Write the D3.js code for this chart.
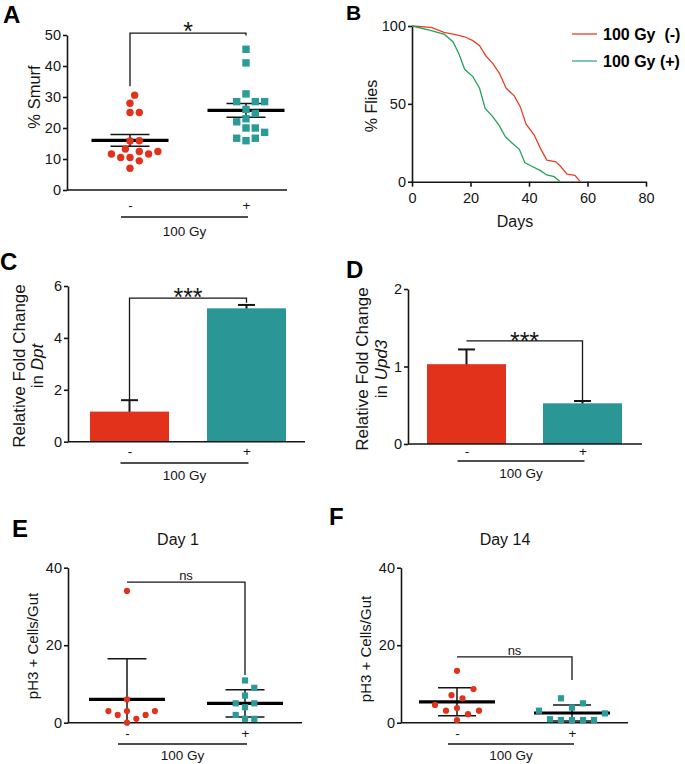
<!DOCTYPE html>
<html><head><meta charset="utf-8">
<script src="https://cdn.jsdelivr.net/npm/d3@7"></script>
<style>
body{margin:0;background:#fff;}
svg{display:block;font-family:"Liberation Sans",Arial,Helvetica,sans-serif;}
</style></head><body>
<svg id="fig" width="685" height="764"></svg>
<script>
// ---------------- DATA ----------------
const groups = ["-", "+"];
const groupLabel = "100 Gy";

// Panel A: % Smurf
const smurfNeg = [30.6, 28, 25, 25, 15.8, 15.9, 12.4, 11.6, 10.5, 10.5, 11.6, 12.4, 13.2, 9.4, 7];
const smurfPos = [45.4, 41, 31, 28.5, 28.5, 28.5, 24.7, 26, 23, 22, 20, 20, 18.6, 16.7, 16.7, 15.9];
const smurfMean = [16.0, 25.7];
const smurfSem = [1.9, 2.2];
const smurfTicks = [0, 10, 20, 30, 40, 50];
const smurfBracket = [33.5, 50.6, 49.8]; // left end, top, right end (values)

// Panel B: survival
const survDaysNeg = [0, 6.6, 10.9, 14.5, 18, 20.8, 23.1, 25.3, 27.6, 29.9, 32.2, 35, 37, 39, 41.8, 43.9, 46.1, 49.2, 50.9, 53, 55.7, 57.5];
const survPctNeg  = [100, 99.1, 95.9, 94.6, 93.1, 90.6, 87.4, 80.7, 76, 69.6, 60, 55, 48.2, 37, 30, 21.4, 13.9, 12.8, 9.6, 4.9, 4.1, 0];
const survDaysPos = [0, 6, 11.1, 14, 16, 18, 20.8, 23.1, 25, 27.6, 29.9, 31.9, 34.4, 36.7, 38.6, 41.3, 43.9, 46.1, 48.6, 50.7];
const survPctPos  = [100, 97.4, 94.6, 89.9, 82.4, 72.2, 67.5, 60, 47.1, 41.8, 35.8, 28.9, 24.6, 20.8, 12.2, 9.6, 7.1, 4.3, 3.2, 0];
const survLegend = ["100 Gy  (-)", "100 Gy (+)"];
const survXTicks = [0, 20, 40, 60, 80];
const survYTicks = [0, 50, 100];

// Panel C: Dpt
const dptMean = [1.16, 5.14];
const dptErr = [0.44, 0.13];
const dptTicks = [0, 2, 4, 6];
const dptBracket = [1.6, 5.53, 5.35];

// Panel D: Upd3
const upd3Mean = [1.03, 0.525];
const upd3Err = [0.19, 0.03];
const upd3Ticks = [0, 1, 2];
const upd3Bracket = [1.33, 1.33, 0.555];

// Panel E: Day 1
const day1Neg = [34, 6, 2, 3, 3, 3, 2, 0, 1];
const day1Pos = [10.9, 9, 7, 5, 5, 4, 2, 1, 1];
const day1Mean = [6.0, 5.0];
const day1Sd = [10.5, 3.5];
const day1Bracket = [36.3, 36.3, 12.3];

// Panel F: Day 14
const day14Neg = [13.4, 8.7, 6.3, 7.1, 4.6, 3.8, 3.1, 3.1, 2.2, 0.7];
const day14Pos = [6.3, 5.0, 3.9, 3.1, 2.4, 0.9, 0.7, 0.7, 0.7, 0.7];
const day14Mean = [5.4, 2.5];
const day14Sd = [3.6, 2.05];
const day14Bracket = [17, 17, 11];
const pH3Ticks = [0, 20, 40];

// ---------------- DRAW ----------------
const svg = d3.select("#fig");
const RED = "#e2321b", TEAL = "#2b9b98", BARTEAL = "#2b9696", INK = "#151515";
const SURV_RED = "#e4402a", SURV_GREEN = "#27a05c", LEG_TEAL = "#33a89c";

function styleAxis(g, fs) {
  g.selectAll("path,line").attr("stroke", INK).attr("stroke-width", 1.6);
  g.selectAll("text").attr("fill", INK).attr("font-size", fs).attr("font-family", "Liberation Sans, Arial, sans-serif");
}
function yAxis(scale, ticks, x, fs) {
  const g = svg.append("g").attr("transform", `translate(${x},0)`)
    .call(d3.axisLeft(scale).tickValues(ticks).tickSize(4).tickSizeOuter(0).tickPadding(2).tickFormat(d3.format("d")));
  styleAxis(g, fs || 14);
  return g;
}
function catAxis(xs, y, x0, x1, pad) {
  svg.append("line").attr("x1", x0).attr("x2", x1).attr("y1", y).attr("y2", y)
    .attr("stroke", INK).attr("stroke-width", 1.6);
  const g = svg.append("g").attr("transform", `translate(0,${y})`)
    .call(d3.axisBottom(xs).tickSize(0).tickPadding(pad));
  g.select(".domain").remove();
  styleAxis(g, 13.5);
}
function groupLine(xs, y, labelY) {
  const a = xs(groups[0]) - 9, b = xs(groups[1]) + 2;
  svg.append("line").attr("x1", a).attr("x2", b).attr("y1", y).attr("y2", y)
    .attr("stroke", INK).attr("stroke-width", 1.4);
  svg.append("text").attr("x", (a + b) / 2).attr("y", labelY).attr("text-anchor", "middle")
    .attr("font-size", 13.5).attr("fill", INK).text(groupLabel);
}
function letter(t, x, y, fs) {
  svg.append("text").attr("x", x).attr("y", y).attr("font-size", fs || 24).attr("font-weight", "bold")
    .attr("fill", "#000").text(t);
}
function yTitle(lines, cy, fs) {
  lines.forEach(ln => {
    const t = svg.append("text").attr("transform", `translate(${ln.x},${cy}) rotate(-90)`)
      .attr("text-anchor", "middle").attr("font-size", fs).attr("fill", INK);
    ln.parts.forEach(p => t.append("tspan").attr("font-style", p.it ? "italic" : null).text(p.t));
  });
}
function bracket(xs, ys, vals, label, fs, dy) {
  const xl = xs(groups[0]), xr = xs(groups[1]);
  const p = d3.path();
  p.moveTo(xl, ys(vals[0])); p.lineTo(xl, ys(vals[1])); p.lineTo(xr, ys(vals[1])); p.lineTo(xr, ys(vals[2]));
  svg.append("path").attr("d", p.toString()).attr("fill", "none").attr("stroke", INK).attr("stroke-width", 1.3);
  svg.append("text").attr("x", (xl + xr) / 2).attr("y", ys(vals[1]) + dy).attr("text-anchor", "middle")
    .attr("font-size", fs).attr("fill", INK).text(label);
}
// deterministic beeswarm
function swarm(values, ys, cx, d) {
  const placed = [];
  const order = values.map((v, i) => ({ v, i })).sort((a, b) => a.v - b.v);
  for (const p of order) {
    const y = ys(p.v);
    let k = 0, x;
    while (true) {
      const off = k === 0 ? 0 : (k % 2 ? 1 : -1) * Math.ceil(k / 2) * d / 2;
      x = cx + off;
      if (placed.every(q => (q.x - x) ** 2 + (q.y - y) ** 2 >= d * d * 0.97)) break;
      k++;
    }
    placed.push({ x, y, v: p.v });
  }
  return placed;
}
function dotPanel(o) {
  const { xs, ys, neg, pos, mean, err, meanHalf, capHalf, d, r } = o;
  groups.forEach((gname, i) => {
    const cx = xs(gname);
    const top = mean[i] + err[i];
    const bot = mean[i] - err[i];
    const botC = Math.max(bot, 0);
    svg.append("line").attr("x1", cx).attr("x2", cx).attr("y1", ys(top)).attr("y2", ys(botC))
      .attr("stroke", INK).attr("stroke-width", 1.5);
    svg.append("line").attr("x1", cx - capHalf).attr("x2", cx + capHalf).attr("y1", ys(top)).attr("y2", ys(top))
      .attr("stroke", INK).attr("stroke-width", 1.5);
    if (bot >= 0) svg.append("line").attr("x1", cx - capHalf).attr("x2", cx + capHalf).attr("y1", ys(bot)).attr("y2", ys(bot))
      .attr("stroke", INK).attr("stroke-width", 1.5);
    svg.append("line").attr("x1", cx - meanHalf).attr("x2", cx + meanHalf).attr("y1", ys(mean[i])).attr("y2", ys(mean[i]))
      .attr("stroke", "#000").attr("stroke-width", 3.2);
  });
  const pn = swarm(neg, ys, xs(groups[0]), d);
  svg.append("g").selectAll("circle").data(pn).join("circle")
    .attr("cx", p => p.x).attr("cy", p => p.y).attr("r", r).attr("fill", RED);
  const pp = swarm(pos, ys, xs(groups[1]), d);
  svg.append("g").selectAll("rect").data(pp).join("rect")
    .attr("x", p => p.x - r).attr("y", p => p.y - r).attr("width", 2 * r).attr("height", 2 * r).attr("fill", TEAL);
}
function barPanel(o) {
  const { xs, ys, mean, err, bw } = o;
  const cols = [RED, BARTEAL];
  groups.forEach((gname, i) => {
    const cx = xs(gname);
    const top = mean[i] + err[i];
    svg.append("line").attr("x1", cx).attr("x2", cx).attr("y1", ys(top)).attr("y2", ys(mean[i] - err[i]))
      .attr("stroke", INK).attr("stroke-width", 2);
    svg.append("line").attr("x1", cx - 8.5).attr("x2", cx + 8.5).attr("y1", ys(top)).attr("y2", ys(top))
      .attr("stroke", INK).attr("stroke-width", 2);
  });
  svg.append("g").selectAll("rect").data(mean).join("rect")
    .attr("x", (v, i) => xs(groups[i]) - bw / 2).attr("width", bw)
    .attr("y", v => ys(v)).attr("height", v => ys(0) - ys(v))
    .attr("fill", (v, i) => cols[i]);
}

// ===== Panel A =====
{
  const ys = d3.scaleLinear().domain([0, 50]).range([190, 35]);
  const xs = d3.scalePoint().domain(groups).range([130, 246]);
  letter("A", 3, 23, 24);
  yAxis(ys, smurfTicks, 67, 14.5);
  catAxis(xs, ys(0), 67, 287, 10);
  groupLine(xs, 217, 236);
  yTitle([{ x: 40, parts: [{ t: "% Smurf" }] }], 97, 16.5);
  bracket(xs, ys, smurfBracket, "*", 25, 7);
  dotPanel({ xs, ys, neg: smurfNeg, pos: smurfPos, mean: smurfMean, err: smurfSem, meanHalf: 38.5, capHalf: 19.5, d: 9.3, r: 3.7 });
}

// ===== Panel B =====
{
  const xs = d3.scaleLinear().domain([0, 80]).range([412, 646]);
  const ys = d3.scaleLinear().domain([0, 100]).range([181.7, 26]);
  letter("B", 346, 20, 21);
  yAxis(ys, survYTicks, 412, 14.5);
  const gx = svg.append("g").attr("transform", `translate(0,${ys(0)})`)
    .call(d3.axisBottom(xs).tickValues(survXTicks).tickSize(5).tickSizeOuter(0).tickPadding(6));
  styleAxis(gx, 14.5);
  svg.append("text").attr("x", 515).attr("y", 227).attr("text-anchor", "middle").attr("font-size", 16).attr("fill", INK).text("Days");
  yTitle([{ x: 377, parts: [{ t: "% Flies" }] }], 106, 16);
  const line = d3.line().x(d => xs(d[0])).y(d => ys(d[1]));
  svg.append("path").attr("d", line(survDaysNeg.map((d, i) => [d, survPctNeg[i]])))
    .attr("fill", "none").attr("stroke", SURV_RED).attr("stroke-width", 1.3);
  svg.append("path").attr("d", line(survDaysPos.map((d, i) => [d, survPctPos[i]])))
    .attr("fill", "none").attr("stroke", SURV_GREEN).attr("stroke-width", 1.3);
  const legCols = [SURV_RED, LEG_TEAL];
  survLegend.forEach((t, i) => {
    const y = 34 + i * 27;
    svg.append("line").attr("x1", 572).attr("x2", 597).attr("y1", y).attr("y2", y).attr("stroke", legCols[i]).attr("stroke-width", 1.3);
    svg.append("text").attr("x", 603).attr("y", y + 6).attr("font-size", 16).attr("font-weight", "bold")
      .attr("fill", "#000").attr("xml:space", "preserve").style("white-space", "pre").text(t);
  });
}

// ===== Panel C =====
{
  const ys = d3.scaleLinear().domain([0, 6]).range([441.7, 286]);
  const xs = d3.scalePoint().domain(groups).range([129.5, 246.5]);
  letter("C", 0, 270, 24);
  yAxis(ys, dptTicks, 68, 14.5);
  barPanel({ xs, ys, mean: dptMean, err: dptErr, bw: 79 });
  catAxis(xs, ys(0), 68, 305, 4.5);
  groupLine(xs, 463, 479.5);
  yTitle([{ x: 25, parts: [{ t: "Relative Fold Change" }] }, { x: 43, parts: [{ t: "in " }, { t: "Dpt", it: true }] }], 366, 17);
  bracket(xs, ys, dptBracket, "***", 25, 8);
}

// ===== Panel D =====
{
  const ys = d3.scaleLinear().domain([0, 2]).range([444, 289]);
  const xs = d3.scalePoint().domain(groups).range([466.5, 582.5]);
  letter("D", 346, 278, 24);
  yAxis(ys, upd3Ticks, 408, 14.5);
  barPanel({ xs, ys, mean: upd3Mean, err: upd3Err, bw: 79 });
  catAxis(xs, ys(0), 408, 642, 2);
  groupLine(xs, 461, 477.5);
  yTitle([{ x: 368, parts: [{ t: "Relative Fold Change" }] }, { x: 387, parts: [{ t: "in " }, { t: "Upd3", it: true }] }], 369, 17);
  bracket(xs, ys, upd3Bracket, "***", 25, 9);
}

// ===== Panel E =====
{
  const ys = d3.scaleLinear().domain([0, 40]).range([722.7, 567.7]);
  const xs = d3.scalePoint().domain(groups).range([127, 245]);
  letter("E", 12, 537, 24);
  svg.append("text").attr("x", 178).attr("y", 545).attr("text-anchor", "middle").attr("font-size", 16).attr("fill", INK).text("Day 1");
  yAxis(ys, pH3Ticks, 68, 14.5);
  catAxis(xs, ys(0), 68, 302, 5.5);
  groupLine(xs, 744, 760);
  yTitle([{ x: 38, parts: [{ t: "pH3 + Cells/Gut" }] }], 646, 15);
  bracket(xs, ys, day1Bracket, "ns", 13, -2);
  dotPanel({ xs, ys, neg: day1Neg, pos: day1Pos, mean: day1Mean, err: day1Sd, meanHalf: 38, capHalf: 19.5, d: 9.3, r: 3.1 });
}

// ===== Panel F =====
{
  const ys = d3.scaleLinear().domain([0, 40]).range([722.7, 567.7]);
  const xs = d3.scalePoint().domain(groups).range([457, 572]);
  letter("F", 329, 525, 24);
  svg.append("text").attr("x", 505).attr("y", 545).attr("text-anchor", "middle").attr("font-size", 16).attr("fill", INK).text("Day 14");
  yAxis(ys, pH3Ticks, 401, 14.5);
  catAxis(xs, ys(0), 401, 628, 5.5);
  groupLine(xs, 744, 760);
  yTitle([{ x: 371, parts: [{ t: "pH3 + Cells/Gut" }] }], 649, 15);
  bracket(xs, ys, day14Bracket, "ns", 13, -2);
  dotPanel({ xs, ys, neg: day14Neg, pos: day14Pos, mean: day14Mean, err: day14Sd, meanHalf: 38, capHalf: 19, d: 11, r: 3.1 });
}
</script>
</body></html>
